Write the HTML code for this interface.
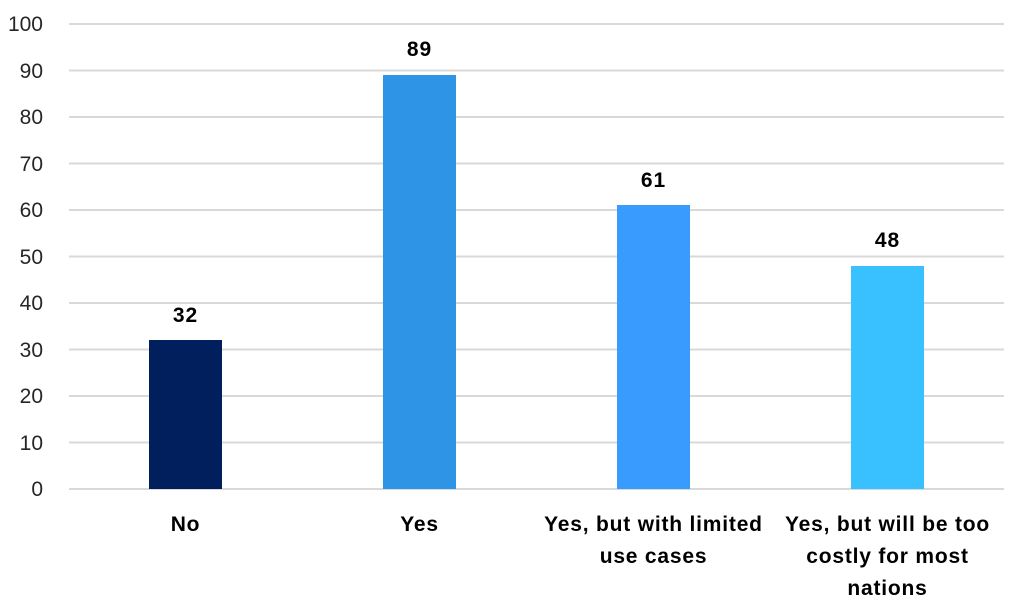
<!DOCTYPE html>
<html><head><style>body{margin:0;background:#fff}</style></head><body>
<svg width="1024" height="610" xmlns="http://www.w3.org/2000/svg" font-family="Liberation Sans, sans-serif">
<g stroke="#d9d9d9" stroke-width="2">
<line x1="69" x2="1004" y1="24" y2="24"/><line x1="69" x2="1004" y1="70.5" y2="70.5"/>
<line x1="69" x2="1004" y1="117" y2="117"/><line x1="69" x2="1004" y1="163.5" y2="163.5"/>
<line x1="69" x2="1004" y1="210" y2="210"/><line x1="69" x2="1004" y1="256.5" y2="256.5"/>
<line x1="69" x2="1004" y1="303" y2="303"/><line x1="69" x2="1004" y1="349.5" y2="349.5"/>
<line x1="69" x2="1004" y1="396" y2="396"/><line x1="69" x2="1004" y1="442.5" y2="442.5"/>
<line x1="69" x2="1004" y1="489" y2="489"/>
</g>
<g font-size="21" fill="#262626" text-anchor="end">
<text x="43" y="31">100</text><text x="43" y="78">90</text><text x="43" y="124">80</text>
<text x="43" y="171">70</text><text x="43" y="217">60</text><text x="43" y="264">50</text>
<text x="43" y="310">40</text><text x="43" y="357">30</text><text x="43" y="403">20</text>
<text x="43" y="450">10</text><text x="43" y="496">0</text>
</g>
<rect x="149" y="340" width="73" height="149" fill="#001f5c"/>
<rect x="383" y="75" width="73" height="414" fill="#2e95e6"/>
<rect x="617" y="205" width="73" height="284" fill="#3a9bff"/>
<rect x="851" y="266" width="73" height="223" fill="#38c0ff"/>
<g font-size="21" font-weight="bold" fill="#000" text-anchor="middle" letter-spacing="1">
<text x="185.5" y="322">32</text><text x="419.5" y="56">89</text>
<text x="653.5" y="187">61</text><text x="887.5" y="247">48</text>
</g>
<g font-size="21" font-weight="bold" fill="#000" text-anchor="middle" letter-spacing="0.8">
<text x="185.5" y="531">No</text><text x="419.5" y="531">Yes</text>
<text x="653.5" y="531">Yes, but with limited</text><text x="653.5" y="563">use cases</text>
<text x="887.5" y="531">Yes, but will be too</text><text x="887.5" y="563">costly for most</text><text x="887.5" y="595">nations</text>
</g>
</svg>
</body></html>
